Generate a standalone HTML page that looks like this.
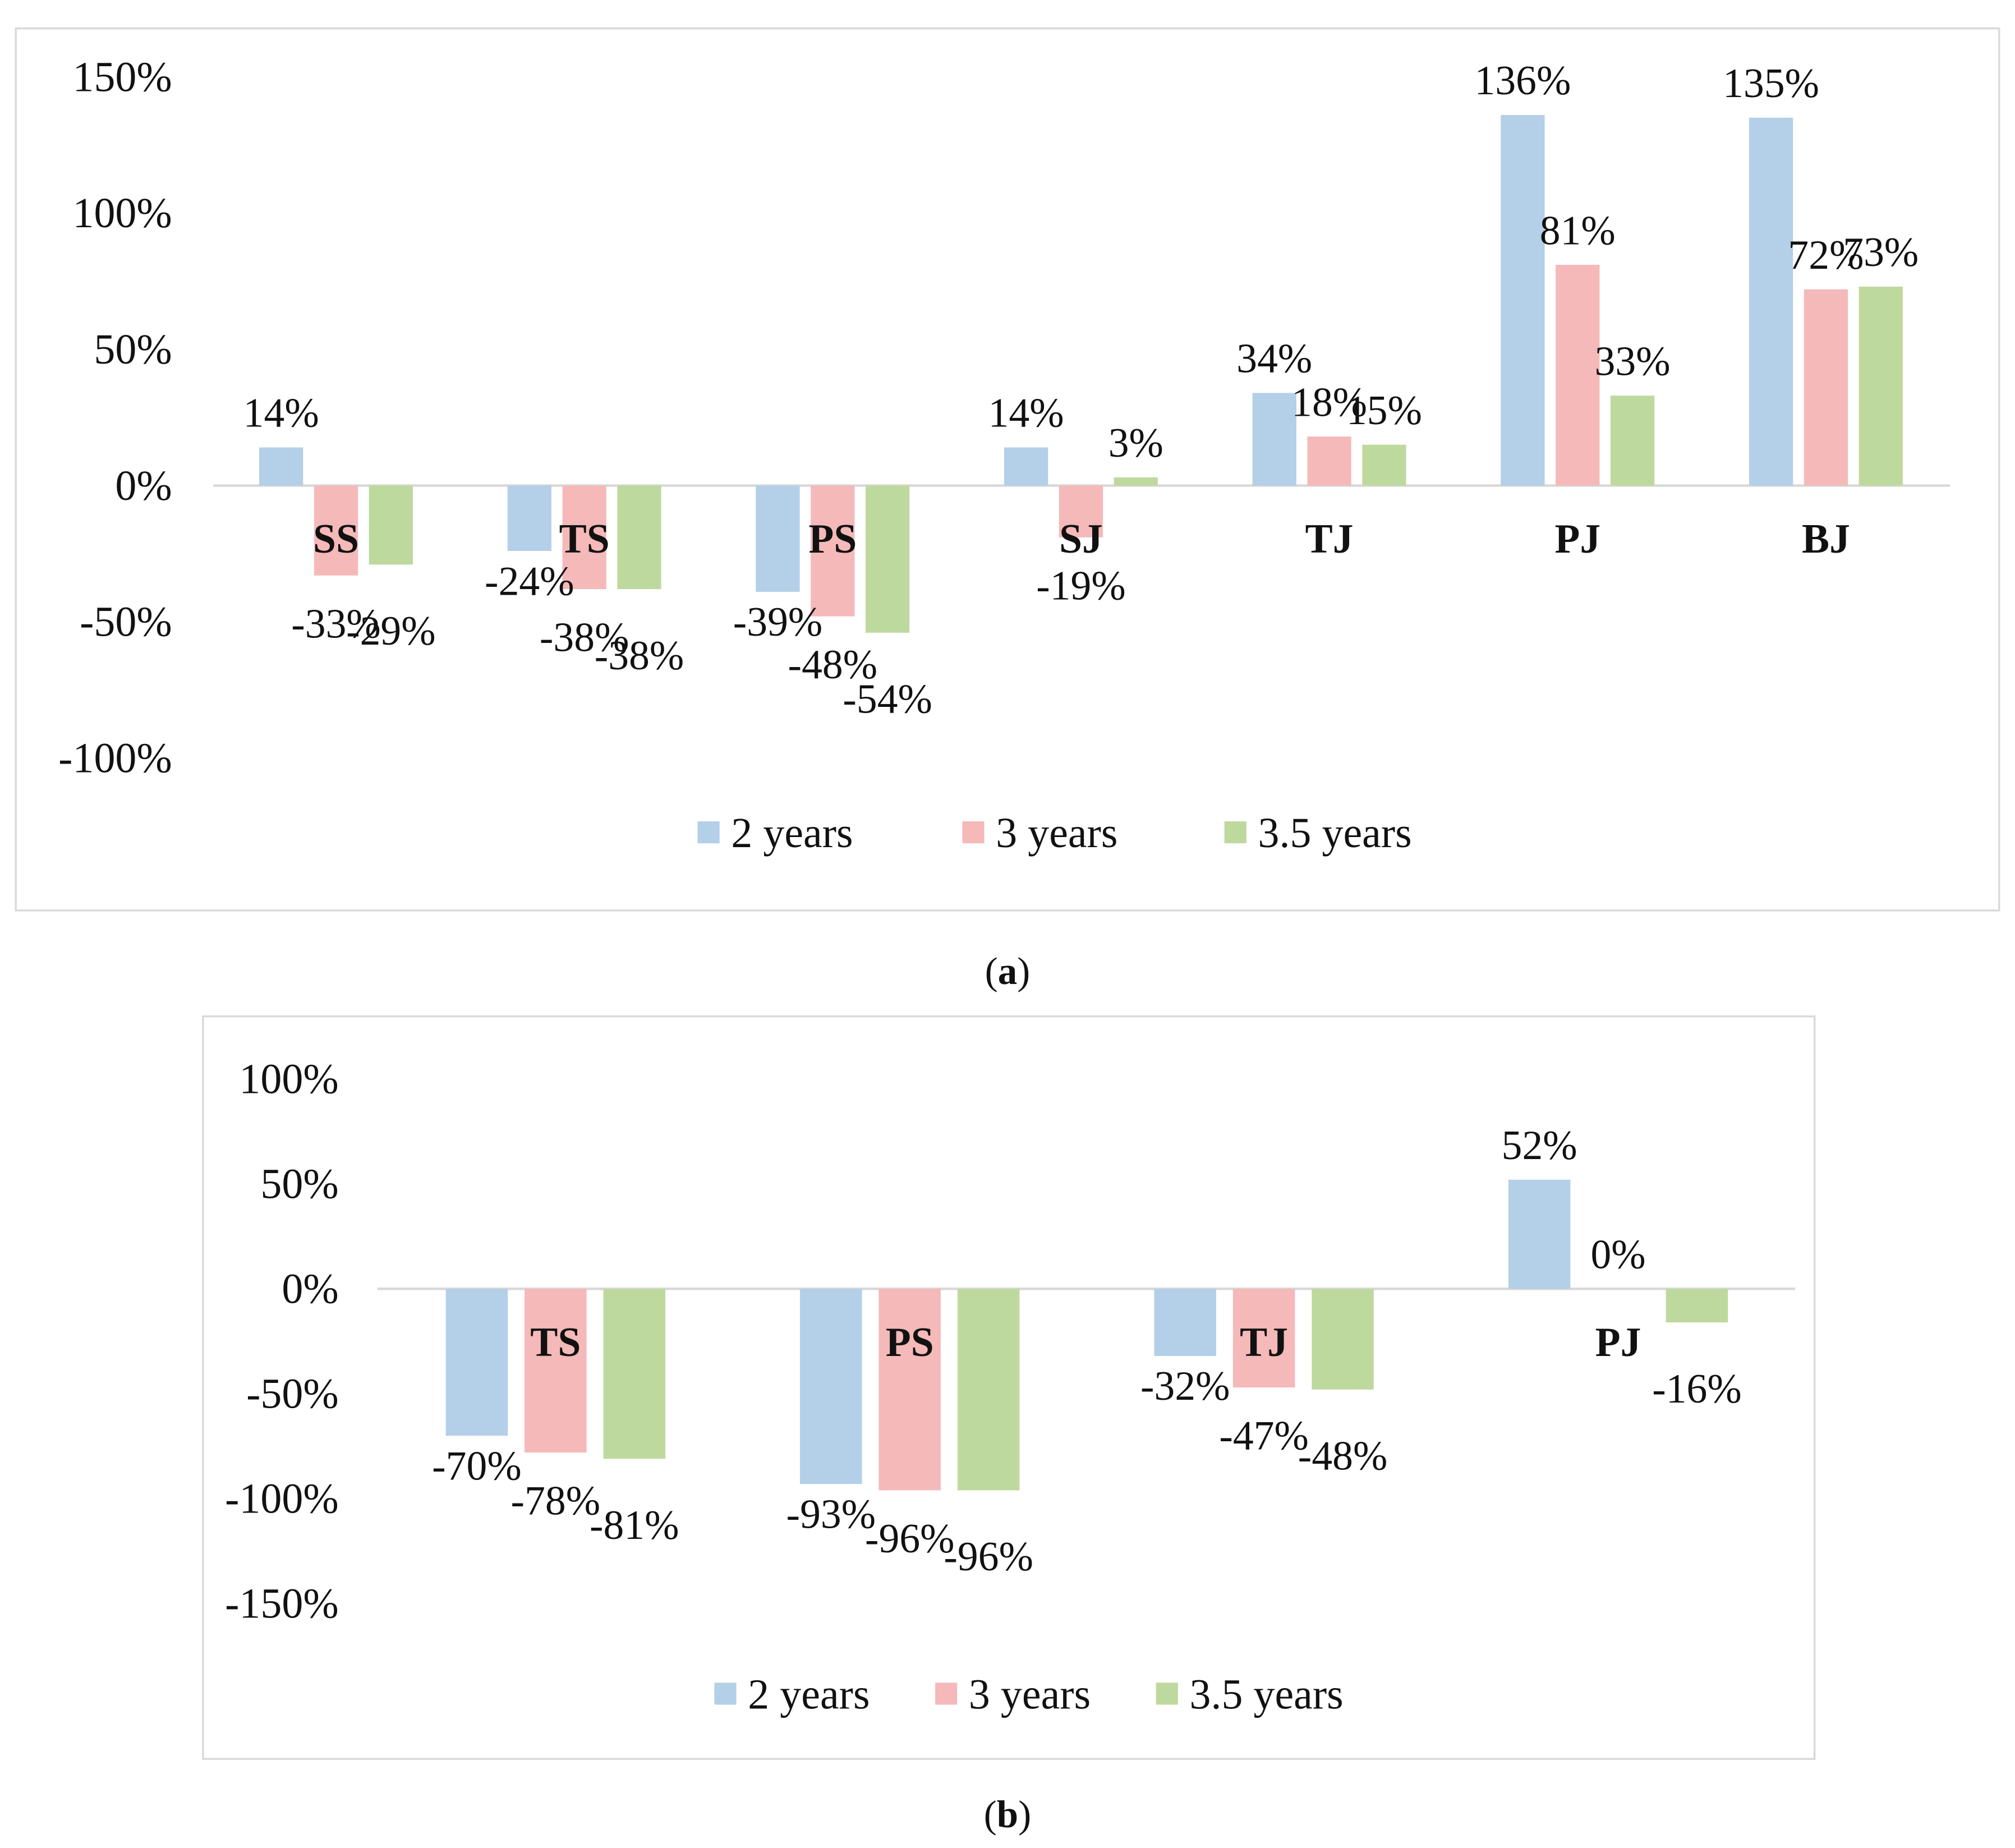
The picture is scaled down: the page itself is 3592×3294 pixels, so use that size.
<!DOCTYPE html>
<html><head><meta charset="utf-8"><style>
html,body{margin:0;padding:0;background:#fff}
svg{display:block}
text{font-family:"Liberation Serif",serif;fill:#111}
</style></head><body>
<svg id="root" width="3592" height="3294" viewBox="0 0 1560 1431" xmlns="http://www.w3.org/2000/svg">
<rect x="12" y="22" width="1536" height="683" fill="#fff" stroke="#d9d9d9" stroke-width="1.5"/>
<rect x="157" y="787" width="1248" height="575" fill="#fff" stroke="#d9d9d9" stroke-width="1.5"/>
<text x="780" y="762" font-size="30" text-anchor="middle">(<tspan font-weight="bold">a</tspan>)</text>
<text x="780" y="1415" font-size="30" text-anchor="middle">(<tspan font-weight="bold">b</tspan>)</text>
<g id="ga"></g>
<g id="gb"></g>
</svg>
<script>
const catsA = ["SS","TS","PS","SJ","TJ","PJ","BJ"];
const twoYearsA = [14,-24,-39,14,34,136,135];
const threeYearsA = [-33,-38,-48,-19,18,81,72];
const threePointFiveYearsA = [-29,-38,-54,3,15,33,73];
const ticksA = [150,100,50,0,-50,-100];

const catsB = ["TS","PS","TJ","PJ"];
const twoYearsB = [-70,-93,-32,52];
const threeYearsB = [-78,-96,-47,0];
const threePointFiveYearsB = [-81,-96,-48,-16];
const ticksB = [100,50,0,-50,-100,-150];

const seriesNames = ["2 years","3 years","3.5 years"];
const colors = ["#b4cfe8","#f4b9b8","#bed99d"];
const NS = "http://www.w3.org/2000/svg";
function mk(parent, tag, attrs, txt){
  const e = document.createElementNS(NS, tag);
  for (const k in attrs) e.setAttribute(k, attrs[k]);
  if (txt !== undefined) e.textContent = txt;
  parent.appendChild(e);
  return e;
}
function drawChart(g, cfg){
  const y = v => cfg.zeroY - v * cfg.pxPer;
  const x = i => cfg.firstX + i * cfg.step;
  cfg.ticks.forEach(t => {
    const e = mk(g, "text", {x: cfg.tickX, y: y(t) + 11, "font-size": 33, "text-anchor": "end"}, t + "%");
    
    
  });
  const zl = mk(g, "line", {x1: cfg.axisX0, x2: cfg.axisX1, y1: y(0), y2: y(0), stroke: "#d9d9d9", "stroke-width": 2});
  
  
  cfg.series.forEach((vals, s) => {
    vals.forEach((v, i) => {
      const cx = x(i) + (s - 1) * cfg.off;
      const top = Math.min(y(v), y(0)), h = Math.abs(y(v) - y(0));
      const r = mk(g, "rect", {x: cx - cfg.bw / 2, y: top, width: cfg.bw, height: Math.max(h, 0), fill: colors[s]});
      
      
    });
  });
  cfg.cats.forEach((c, i) => {
    const e = mk(g, "text", {x: x(i), y: y(0) + 52, "font-size": 32, "font-weight": "bold", "text-anchor": "middle"}, c);
    
    
  });
  cfg.series.forEach((vals, s) => {
    vals.forEach((v, i) => {
      const cx = x(i) + (s - 1) * cfg.off;
      const ly = v >= 0 ? y(v) - 16 : y(v) + 34 + s * 14;
      const e = mk(g, "text", {x: cx, y: ly, "font-size": 32, "text-anchor": "middle"}, v + "%");
      
      
    });
  });
  cfg.legendX.forEach((lx, s) => {
    const r = mk(g, "rect", {x: lx, y: cfg.legendY - 9, width: 17, height: 17, fill: colors[s]});
    
    
    const t = mk(g, "text", {x: lx + 26, y: cfg.legendY + 11, "font-size": 33}, seriesNames[s]);
    
    
  });
}
drawChart(document.getElementById("ga"), {
  cats: catsA, series: [twoYearsA, threeYearsA, threePointFiveYearsA], ticks: ticksA,
  zeroY: 376, pxPer: 2.11, firstX: 260, step: 192.3, off: 42.5, bw: 34,
  tickX: 133, axisX0: 165, axisX1: 1510, legendX: [540, 745, 948], legendY: 645
});
drawChart(document.getElementById("gb"), {
  cats: catsB, series: [twoYearsB, threeYearsB, threePointFiveYearsB], ticks: ticksB,
  zeroY: 998, pxPer: 1.625, firstX: 430, step: 274.3, off: 61, bw: 48,
  tickX: 262, axisX0: 292, axisX1: 1390, legendX: [553, 724, 895], legendY: 1312
});
</script>
</body></html>
